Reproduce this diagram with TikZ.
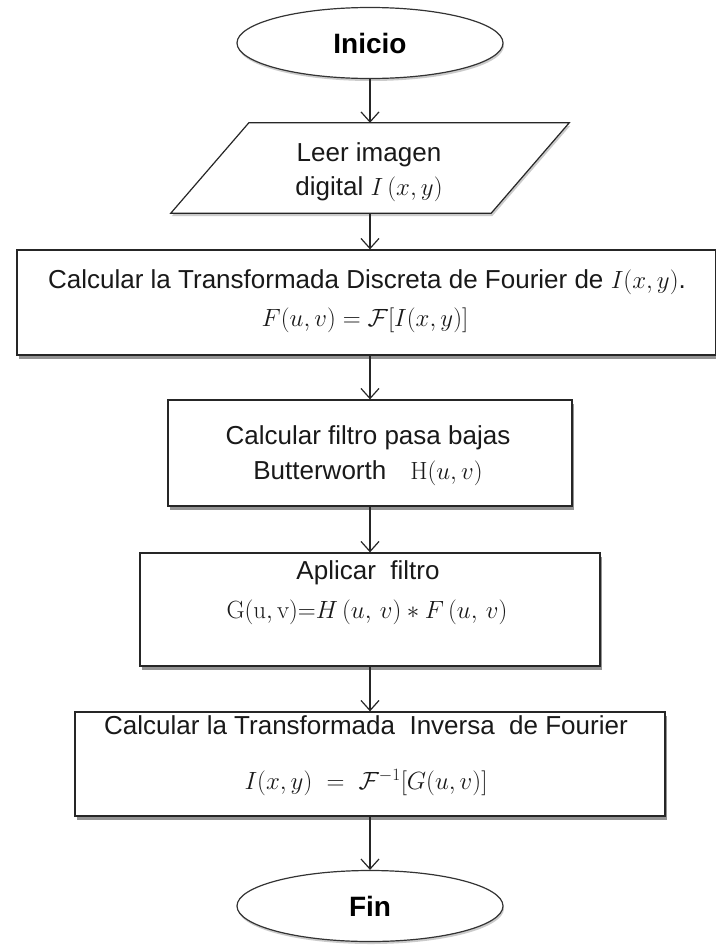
\documentclass[tikz,border=0pt]{standalone}
\usepackage[no-math]{fontspec}
\setmainfont{Liberation Sans}
\usetikzlibrary{shapes.geometric,arrows.meta,shadows}
\begin{document}
\begin{tikzpicture}[x=1pt,y=1pt,
  line/.style={line width=1.2pt, draw=black!85},
  box/.style={rectangle, draw=black!85, line width=1.3pt, fill=white, inner sep=0pt,
    drop shadow={shadow xshift=1.5pt, shadow yshift=-4pt, fill=black!60, opacity=0.7}},
  term/.style={ellipse, draw=black!80, line width=1.2pt, fill=white, minimum width=266pt,
    minimum height=71pt, inner sep=0pt, font=\fontsize{28}{32}\selectfont\bfseries,
    drop shadow={shadow xshift=1pt, shadow yshift=-2.5pt, fill=black!40, opacity=0.5}},
  txt/.style={inner sep=0pt, text=black!90, font=\fontsize{26}{30}\selectfont},
  arr/.style={line width=1.2pt, draw=black!85, -{Straight Barb[length=10pt, width=18pt, line width=1.2pt]}}
]
\useasboundingbox (0,0) rectangle (715,-945);
\fill[white] (0,0) rectangle (715,-945);

% Inicio
\node[term] (ini) at (370,-43) {Inicio};

% parallelogram
\node[inner sep=0pt, minimum width=320pt, minimum height=90pt] (par) at (370,-168) {};
\fill[black!40, opacity=0.5] ([xshift=40pt,yshift=-3pt]par.north west) -- ([xshift=40pt,yshift=-3pt]par.north east)
   -- ([xshift=-38pt,yshift=-3pt]par.south east) -- ([xshift=-38pt,yshift=-3pt]par.south west) -- cycle;
\draw[line, fill=white] ([xshift=39pt]par.north west) -- ([xshift=39pt]par.north east)
   -- ([xshift=-39pt]par.south east) -- ([xshift=-39pt]par.south west) -- cycle;
\node[txt] (par1) at (369,-155) {Leer imagen};
\node[txt] (par2) at (369,-189) {digital $I\,(x,y)$};

% Box 1
\node[box, minimum width=699pt, minimum height=105pt] (b1) at (366.5,-302.5) {};
\node[txt] (b1t1) at (367,-282) {Calcular la Transformada Discreta de Fourier de $I(x,y)$.};
\node[txt] (b1t2) at (365,-320) {$F(u,v) = \mathcal{F}[I(x,y)]$};

% Box 2
\node[box, minimum width=404pt, minimum height=106pt] (b2) at (370,-453) {};
\node[txt] (b2t1) at (368,-438) {Calcular filtro pasa bajas};
\node[txt] (b2t2) at (368,-473) {Butterworth\hspace{24pt}$\mathrm{H}(u,v)$};

% Box 3
\node[box, minimum width=460pt, minimum height=113pt] (b3) at (370,-609.5) {};
\node[txt] (b3t1) at (368,-573) {Aplicar\ \ filtro};
\node[txt] (b3t2) at (367,-612) {$\mathrm{G(u,v)}{=}H\,(u,\,v) * F\,(u,\,v)$};

% Box 4
\node[box, minimum width=590pt, minimum height=104pt] (b4) at (370,-764) {};
\node[txt] (b4t1) at (366,-725) {Calcular la Transformada\ \ Inversa\ \ de Fourier};
\node[txt] (b4t2) at (366,-783) {$I(x,y)\ =\ \mathcal{F}^{-1}[G(u,v)]$};

% Fin
\node[term] (fin) at (370,-906) {Fin};

% connectors
\draw[arr] (ini) -- (par);
\draw[arr] (par.south) -- (par.south |- b1.north);
\draw[arr] (par.south |- b1.south) -- (b2.north);
\draw[arr] (b2) -- (b3);
\draw[arr] (b3) -- (b4);
\draw[arr] (b4) -- (fin);
\end{tikzpicture}
\end{document}
